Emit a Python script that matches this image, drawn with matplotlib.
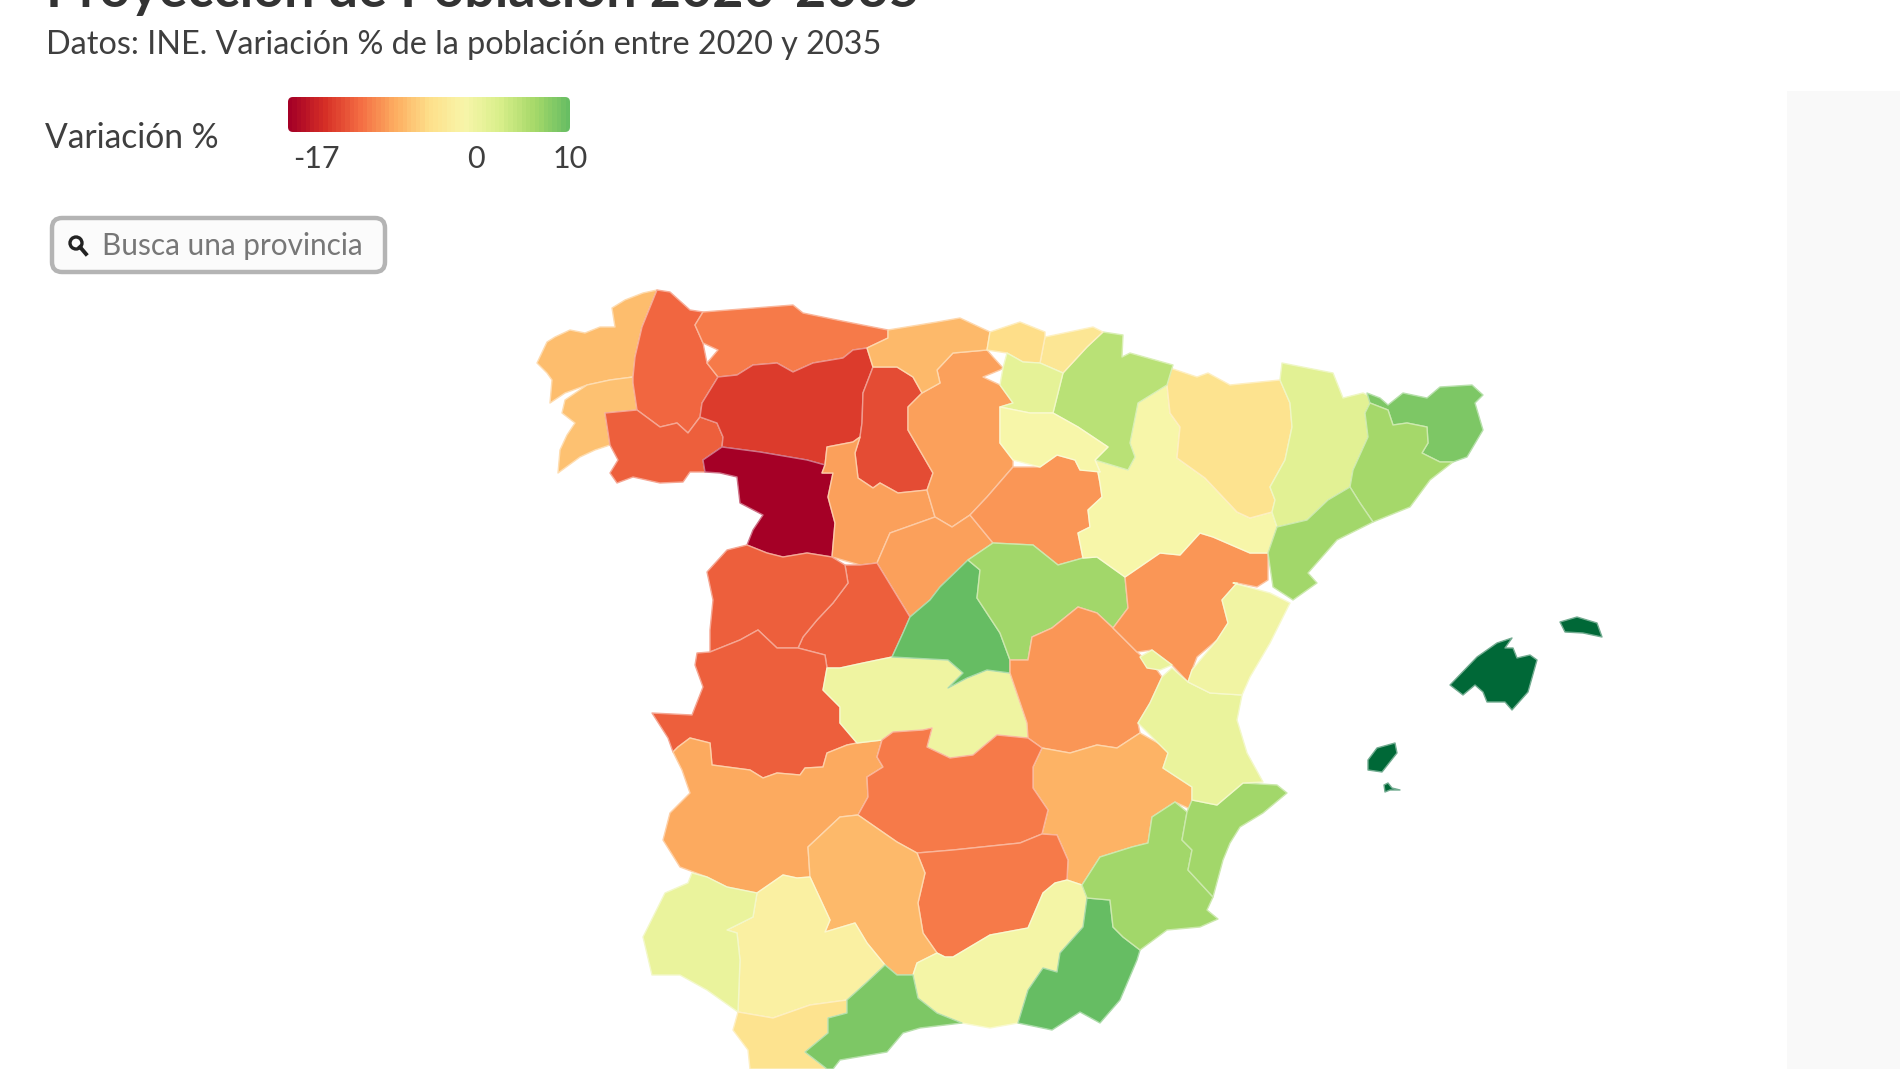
import matplotlib
matplotlib.use("Agg")
import matplotlib.pyplot as plt
import numpy as np
from matplotlib.patches import Polygon, FancyBboxPatch, Rectangle, Circle
from matplotlib.colors import Normalize, LinearSegmentedColormap
from matplotlib.lines import Line2D

FONT = ["Lato", "DejaVu Sans"]
plt.rcParams["font.family"] = FONT

TITLE = "Proyección de Población 2020-2035"
SUBTITLE = "Datos: INE. Variación % de la población entre 2020 y 2035"
LEGEND_TITLE = "Variación %"
SEARCH_TEXT = "Busca una provincia"
legend_ticks = [-17, 0, 10]

# province outlines, in the map's own coordinate system
a_coruna = [(657,290),(643,293),(625,300),(612,308),(615,327),(600,327),(585,333),(570,330),(555,337),(547,342),(537,363),(547,373),(552,380),(550,403),(565,393),(587,385),(610,380),(633,377),(635,357),(642,327)]
pontevedra = [(633,377),(610,380),(587,385),(565,400),(562,413),(575,423),(567,435),(560,450),(558,473),(580,457),(595,450),(610,445),(605,413),(637,410),(633,383)]
lugo = [(657,290),(670,292),(690,310),(703,312),(695,325),(703,343),(707,363),(718,377),(702,403),(700,417),(688,433),(677,423),(660,427),(637,410),(633,383),(633,377),(635,357),(642,327)]
ourense = [(605,413),(637,410),(660,427),(677,423),(688,433),(700,417),(717,423),(723,437),(722,447),(703,460),(705,472),(690,472),(683,482),(660,483),(633,477),(617,483),(610,473),(618,460),(610,445)]
asturias = [(703,312),(793,305),(803,313),(837,320),(888,330),(888,338),(867,348),(853,350),(843,358),(813,363),(793,372),(777,363),(753,365),(737,375),(718,377),(707,363),(718,350),(703,343),(695,325)]
leon = [(718,377),(737,375),(753,365),(777,363),(793,372),(813,363),(843,358),(853,350),(867,348),(873,367),(863,393),(862,423),(860,437),(853,442),(827,447),(825,465),(807,460),(760,452),(722,447),(723,437),(717,423),(700,417),(702,403)]
zamora = [(722,447),(760,452),(807,460),(825,465),(822,473),(833,473),(828,497),(835,523),(832,557),(807,553),(783,557),(767,553),(747,545),(753,530),(763,515),(740,503),(737,477),(720,473),(705,472),(703,460)]
palencia = [(873,367),(897,367),(913,377),(922,393),(908,407),(908,430),(933,473),(927,490),(898,493),(880,483),(873,488),(858,478),(855,453),(860,437),(862,423),(863,393)]
valladolid = [(827,447),(853,442),(860,437),(855,453),(858,478),(873,488),(880,483),(898,493),(927,490),(935,517),(890,533),(877,563),(860,565),(832,557),(835,523),(828,497),(833,473),(822,473),(825,465)]
burgos = [(987,350),(953,353),(937,370),(940,383),(922,393),(908,407),(908,430),(933,473),(927,490),(935,517),(952,527),(970,515),(987,497),(1013,467),(1013,460),(1000,443),(1000,407),(1013,403),(1000,385),(983,377),(1000,370),(1003,368),(993,357)]
trevino = [(1018,390),(1030,388),(1038,395),(1032,399),(1020,396)]
cantabria = [(888,330),(937,322),(960,318),(990,332),(987,350),(953,353),(937,370),(940,383),(922,393),(913,377),(897,367),(873,367),(867,348),(888,338)]
segovia = [(935,517),(952,527),(970,515),(993,543),(968,560),(940,587),(930,600),(910,617),(877,563),(890,533)]
soria = [(1013,467),(1040,467),(1057,455),(1075,460),(1080,470),(1097,467),(1100,483),(1102,497),(1088,510),(1090,527),(1078,533),(1083,558),(1058,565),(1033,545),(993,543),(970,515),(987,497)]
avila = [(845,565),(860,565),(877,563),(910,617),(903,633),(892,657),(863,663),(840,668),(827,668),(825,655),(798,648),(803,637),(817,620),(833,603),(848,583)]
salamanca = [(727,550),(747,545),(767,553),(783,557),(807,553),(832,557),(845,565),(848,583),(833,603),(817,620),(803,637),(798,648),(777,648),(758,630),(740,640),(710,652),(710,630),(713,600),(707,572)]
caceres = [(697,653),(710,652),(740,640),(758,630),(777,648),(798,648),(825,655),(827,668),(823,690),(840,707),(840,723),(857,743),(847,745),(827,753),(823,767),(805,768),(800,775),(777,773),(763,778),(750,770),(712,765),(710,743),(690,738),(678,747),(673,752),(668,738),(652,713),(692,715),(703,687),(695,665)]
badajoz = [(673,752),(678,747),(690,738),(710,743),(712,765),(750,770),(763,778),(777,773),(800,775),(805,768),(823,767),(827,753),(847,745),(857,743),(882,740),(877,757),(883,767),(867,777),(868,797),(858,815),(840,817),(808,847),(810,877),(797,878),(783,875),(757,893),(727,887),(707,877),(680,867),(663,840),(670,813),(690,793),(682,770)]
toledo = [(863,663),(892,657),(948,660),(963,673),(948,688),(967,678),(987,670),(1010,673),(1027,723),(1028,738),(997,735),(973,755),(950,758),(927,747),(932,728),(923,730),(893,732),(882,740),(857,743),(840,723),(840,707),(823,690),(827,668),(840,668)]
madrid = [(968,560),(980,570),(977,598),(1000,633),(1010,660),(1010,673),(987,670),(967,678),(948,688),(963,673),(948,660),(892,657),(903,633),(910,617),(930,600),(940,587)]
guadalajara = [(993,543),(1033,545),(1058,565),(1083,558),(1097,557),(1125,577),(1128,608),(1113,628),(1097,613),(1078,607),(1052,628),(1032,637),(1028,660),(1010,660),(1000,633),(977,598),(980,570),(968,560)]
cuenca = [(1113,628),(1097,613),(1078,607),(1052,628),(1032,637),(1028,660),(1010,660),(1010,673),(1027,723),(1028,738),(1042,748),(1070,753),(1097,745),(1117,748),(1140,733),(1138,723),(1150,703),(1162,677),(1157,670),(1137,652)]
teruel = [(1125,577),(1160,553),(1180,555),(1200,533),(1213,537),(1250,553),(1268,553),(1268,580),(1257,587),(1237,583),(1222,600),(1228,623),(1217,640),(1197,657),(1192,670),(1188,682),(1172,665),(1152,650),(1137,652),(1113,628),(1128,608)]
ademuz = [(1140,657),(1152,650),(1172,665),(1160,670),(1147,668)]
albacete = [(1042,748),(1070,753),(1097,745),(1117,748),(1140,733),(1165,747),(1168,753),(1163,768),(1192,787),(1192,810),(1175,802),(1152,817),(1148,843),(1132,847),(1100,857),(1082,885),(1067,880),(1068,860),(1057,835),(1042,834),(1048,810),(1033,788),(1033,767)]
ciudad_real = [(882,740),(893,732),(923,730),(932,728),(927,747),(950,758),(973,755),(997,735),(1028,738),(1042,748),(1033,767),(1033,788),(1048,810),(1042,834),(1020,843),(953,850),(917,853),(897,842),(858,815),(868,797),(867,777),(883,767),(877,757)]
jaen = [(917,853),(953,850),(1020,843),(1042,834),(1057,835),(1068,860),(1067,880),(1055,883),(1043,893),(1028,928),(990,935),(953,957),(945,957),(937,953),(923,933),(918,903),(925,873)]
cordoba = [(858,815),(897,842),(917,853),(925,873),(918,903),(923,933),(937,953),(917,963),(913,975),(897,975),(885,965),(867,943),(855,923),(825,932),(830,920),(810,877),(808,847),(840,817)]
granada = [(1067,880),(1082,885),(1087,898),(1083,927),(1060,953),(1057,972),(1043,968),(1028,990),(1018,1023),(990,1028),(962,1023),(937,1013),(918,998),(913,975),(917,963),(937,953),(945,957),(953,957),(990,935),(1028,928),(1043,893),(1055,883)]
almeria = [(1087,898),(1110,900),(1113,927),(1123,937),(1140,950),(1137,960),(1120,1000),(1100,1023),(1080,1012),(1052,1030),(1018,1023),(1028,990),(1043,968),(1057,972),(1060,953),(1083,927)]
murcia = [(1110,900),(1087,898),(1082,885),(1100,857),(1132,847),(1148,843),(1152,817),(1175,802),(1187,812),(1182,840),(1192,850),(1188,870),(1213,897),(1207,910),(1218,919),(1200,927),(1167,930),(1140,950),(1123,937),(1113,927)]
alicante = [(1192,800),(1217,805),(1243,783),(1277,785),(1287,793),(1263,813),(1240,827),(1230,843),(1223,860),(1213,897),(1188,870),(1192,850),(1182,840),(1187,812)]
valencia = [(1162,677),(1172,668),(1188,682),(1210,693),(1242,695),(1237,720),(1247,753),(1263,782),(1243,783),(1217,805),(1192,800),(1192,787),(1163,768),(1168,753),(1138,723),(1150,703)]
castellon = [(1233,583),(1270,593),(1290,603),(1270,643),(1250,677),(1242,695),(1210,693),(1188,682),(1192,670),(1217,640),(1228,623),(1222,600),(1237,583)]
zaragoza = [(1167,385),(1138,403),(1130,443),(1135,457),(1128,470),(1095,460),(1100,472),(1097,467),(1100,483),(1102,497),(1088,510),(1090,527),(1078,533),(1083,558),(1097,557),(1125,577),(1160,553),(1180,555),(1200,533),(1213,537),(1250,553),(1268,553),(1277,527),(1272,512),(1250,518),(1237,512),(1205,478),(1177,458),(1180,427),(1170,413)]
huesca = [(1170,368),(1197,377),(1208,373),(1230,385),(1280,380),(1290,403),(1292,427),(1285,460),(1270,487),(1275,500),(1272,512),(1250,518),(1237,512),(1205,478),(1177,458),(1180,427),(1170,413),(1167,385)]
lleida = [(1282,363),(1333,373),(1343,398),(1363,393),(1373,398),(1365,413),(1368,437),(1353,470),(1350,487),(1328,500),(1307,520),(1277,527),(1272,512),(1275,500),(1270,487),(1285,460),(1292,427),(1290,403),(1280,380)]
girona = [(1367,393),(1380,398),(1388,405),(1403,393),(1427,398),(1440,387),(1472,385),(1483,395),(1475,403),(1483,430),(1467,457),(1453,462),(1440,462),(1422,453),(1428,443),(1427,427),(1407,423),(1393,425),(1388,410),(1370,403)]
barcelona = [(1370,403),(1388,410),(1393,425),(1407,423),(1427,427),(1428,443),(1422,453),(1440,462),(1453,462),(1430,480),(1410,507),(1373,522),(1360,503),(1350,487),(1353,470),(1368,437),(1365,413)]
tarragona = [(1350,487),(1360,503),(1373,522),(1337,540),(1308,573),(1317,583),(1293,600),(1273,587),(1268,553),(1277,527),(1307,520),(1328,500)]
navarra = [(1103,332),(1123,335),(1122,357),(1130,353),(1173,365),(1167,385),(1138,403),(1130,443),(1135,457),(1128,470),(1095,460),(1108,447),(1078,427),(1053,413),(1063,373),(1087,347)]
gipuzkoa = [(1045,337),(1093,327),(1103,332),(1087,347),(1063,373),(1040,363)]
bizkaia = [(1005,327),(1020,322),(1045,332),(1045,337),(1040,363),(1023,362),(1007,353),(987,350),(990,332)]
alava = [(1003,368),(1007,353),(1023,362),(1040,363),(1063,373),(1053,413),(1030,413),(1000,407),(1013,403),(1000,385)]
la_rioja = [(1000,407),(1030,413),(1053,413),(1078,427),(1108,447),(1095,460),(1100,472),(1080,470),(1075,460),(1057,455),(1040,467),(1013,460),(1000,443)]
sevilla = [(727,930),(753,917),(757,893),(783,875),(797,878),(810,877),(830,920),(825,932),(855,923),(867,943),(885,965),(867,982),(847,1000),(810,1005),(773,1018),(738,1012),(740,960),(737,933)]
huelva = [(692,873),(707,877),(727,887),(757,893),(753,917),(727,930),(737,933),(740,960),(738,1012),(707,990),(680,975),(652,975),(643,937),(665,893),(688,883)]
cadiz = [(738,1012),(773,1018),(810,1005),(847,1000),(847,1013),(828,1018),(828,1033),(805,1052),(827,1069),(750,1069),(748,1050),(733,1030)]
malaga = [(913,975),(918,998),(937,1013),(962,1023),(920,1028),(903,1033),(887,1052),(840,1060),(833,1069),(827,1069),(805,1052),(828,1033),(828,1018),(847,1013),(847,1000),(867,982),(885,965),(897,975)]
mallorca = [(1450,685),(1477,657),(1497,643),(1512,638),(1505,648),(1513,648),(1517,658),(1530,655),(1537,660),(1528,692),(1512,710),(1505,702),(1487,702),(1483,692),(1475,685),(1463,695)]
menorca = [(1560,622),(1577,617),(1597,623),(1602,637),(1583,633),(1565,632)]
ibiza = [(1368,760),(1377,748),(1395,743),(1397,753),(1382,772),(1368,770)]
formentera = [(1384,785),(1388,783),(1392,788),(1400,790),(1390,790),(1385,792)]

outlines = [a_coruna, pontevedra, lugo, ourense, asturias, leon, zamora, palencia, valladolid, burgos, trevino, cantabria,
            segovia, soria, avila, salamanca, caceres, badajoz, toledo, madrid, guadalajara, cuenca, teruel, ademuz, albacete,
            ciudad_real, jaen, cordoba, granada, almeria, murcia, alicante, valencia, castellon, zaragoza, huesca, lleida,
            girona, barcelona, tarragona, navarra, gipuzkoa, bizkaia, alava, la_rioja, sevilla, huelva, cadiz, malaga,
            mallorca, menorca, ibiza, formentera]
variation = [-5.8, -5.5, -10.5, -11, -9.5, -13, -17, -12, -7.5, -7.5, -7.5, -6,
             -7.5, -8, -11, -11, -11, -7, 1, 10.2, 7, -8, -8, 1.5, -6.5,
             -9.5, -9.5, -6, 0.5, 10.2, 7, 7, 1.5, 0.7, 0, -3, 2.5,
             9, 6.8, 7, 5.5, -2.5, -3.5, 2, 0, -0.8, 1.5, -3, 9,
             17, 17, 17, 17]

scale_colors = ["#a50026", "#d73027", "#f46d43", "#fdae61", "#fee08b", "#f8f6aa",
                "#d9ef8b", "#a6d96a", "#66bd63", "#1a9850", "#006837"]
cmap = LinearSegmentedColormap.from_list("variacion", scale_colors)
norm = Normalize(-17, 17)

fig = plt.figure(figsize=(19, 10.69), dpi=100, facecolor="white")
ax = fig.add_axes([0, 0, 1, 1])
ax.set_xlim(0, 1900)
ax.set_ylim(1069, 0)
ax.axis("off")

ax.add_patch(Rectangle((1787, 91), 113, 978, fc="#f9f9f9", ec="none", zorder=0))

for pts, v in zip(outlines, variation):
    c = cmap(norm(v))
    edge = tuple(0.55 * np.array(c[:3]) + 0.45)
    ax.add_patch(Polygon(pts, closed=True, fc=c, ec=edge, lw=1.0, joinstyle="round", zorder=2))

TXT = "#3f3f3f"
ax.text(46, 7, TITLE, fontsize=38.8, fontweight="bold", color="#333333", va="baseline", ha="left", zorder=5)
ax.text(46, 44.5, SUBTITLE, fontsize=23.3, color=TXT, va="center", ha="left")
ax.text(45, 138.5, LEGEND_TITLE, fontsize=24.2, color=TXT, va="center", ha="left")

# legend bar
bar_l, bar_r, bar_t, bar_b = 288, 570, 97, 132
legend_vals = np.linspace(legend_ticks[0], legend_ticks[-1], 64)
im = ax.imshow(legend_vals[None, :], cmap=cmap, norm=norm, extent=(bar_l, bar_r, bar_b, bar_t), aspect="auto", zorder=3, interpolation="nearest")
clip = FancyBboxPatch((bar_l + 5, bar_t + 5), bar_r - bar_l - 10, bar_b - bar_t - 10, boxstyle="round,pad=5,rounding_size=5",
                      fc="none", ec="none", transform=ax.transData)
ax.add_patch(clip)
im.set_clip_path(clip)
ax.set_xlim(0, 1900)
ax.set_ylim(1069, 0)
for t in legend_ticks:
    x = 316 + (t - legend_ticks[0]) / (legend_ticks[-1] - legend_ticks[0]) * (570 - 316)
    ax.text(x, 159, str(t), fontsize=22, color=TXT, ha="center", va="center")

# search box
ax.add_patch(FancyBboxPatch((60, 226), 317, 38, boxstyle="round,pad=8,rounding_size=10", fc="#fbfbfb", ec="#b4b4b4", lw=3.2, zorder=3))
ax.add_patch(Circle((76, 243), 6, fc="none", ec="#222222", lw=2.4, zorder=4))
ax.add_line(Line2D([80, 86], [247, 254], color="#222222", lw=2.8, zorder=4))
ax.text(102, 246, SEARCH_TEXT, fontsize=21.4, color="#777777", va="center", ha="left", zorder=4)

fig.savefig("out.png", dpi=100)
